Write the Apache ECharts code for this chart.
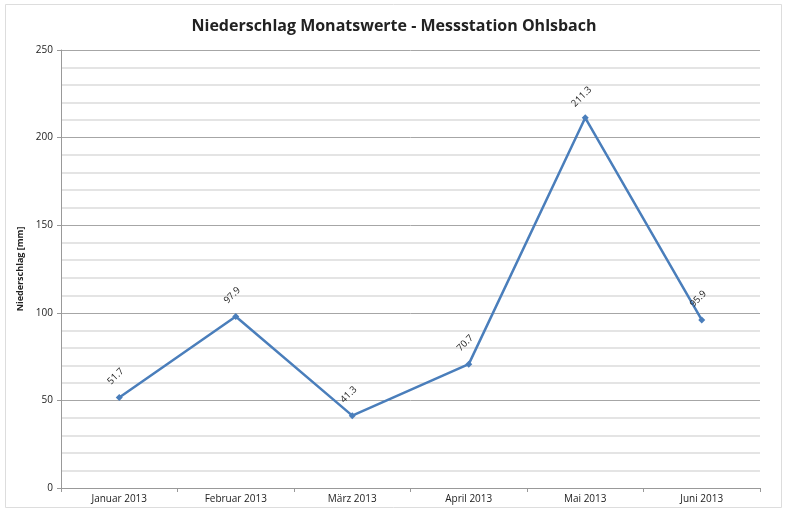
<!DOCTYPE html>
<html>
<head>
<meta charset="utf-8">
<script src="https://cdn.jsdelivr.net/npm/echarts@6/dist/echarts.min.js"></script>
<style>
  html, body { margin: 0; padding: 0; background: #fff; }
  #chart { width: 788px; height: 511px; }
</style>
</head>
<body>
<div id="chart"></div>
<script>
// Monatswerte Niederschlag
var monate = ['Januar 2013', 'Februar 2013', 'März 2013', 'April 2013', 'Mai 2013', 'Juni 2013'];
var niederschlag = [51.7, 97.9, 41.3, 70.7, 211.3, 95.9];
var yMin = 0, yMax = 250, yStep = 50;

var chart = echarts.init(document.getElementById('chart'));
var option = {
    backgroundColor: '#fff',
    animation: false,
    title: {
        text: 'Niederschlag Monatswerte - Messstation Ohlsbach',
        left: 'center',
        top: 13,
        textStyle: { fontFamily: 'Open Sans', fontSize: 16, fontWeight: 'bold', color: '#222' }
    },
    graphic: [{
        type: 'rect',
        shape: { x: 5.5, y: 4.5, width: 776, height: 503 },
        style: { fill: 'none', stroke: '#ddd', lineWidth: 1 },
        silent: true
    }],
    grid: { left: 61, right: 28, top: 50, bottom: 23 },
    xAxis: {
        type: 'category',
        data: monate,
        boundaryGap: true,
        axisLine: { lineStyle: { color: '#999', width: 1 } },
        axisTick: { show: true, alignWithLabel: false, length: 4, lineStyle: { color: '#999' } },
        axisLabel: { color: '#222', fontFamily: 'Open Sans', fontSize: 10, margin: 6 },
        splitLine: { show: false }
    },
    yAxis: {
        type: 'value',
        min: yMin,
        max: yMax,
        interval: yStep,
        name: 'Niederschlag [mm]',
        nameLocation: 'middle',
        nameGap: 29,
        nameTextStyle: { fontFamily: 'Open Sans', fontSize: 9, fontWeight: 'bold', color: '#222' },
        axisLine: { show: true, lineStyle: { color: '#999' } },
        axisTick: { show: true, length: 4, lineStyle: { color: '#999' } },
        axisLabel: { color: '#222', fontFamily: 'Open Sans', fontSize: 10, margin: 8 },
        splitLine: { show: true, lineStyle: { color: '#a6a6a6', width: 1 } },
        minorTick: { show: false, splitNumber: 5 },
        minorSplitLine: { show: true, lineStyle: { color: '#dcdcdc', width: 1.5 } }
    },
    series: [{
        type: 'line',
        data: niederschlag,
        symbol: 'diamond',
        symbolSize: 7,
        lineStyle: { color: '#4a7ebb', width: 2.5 },
        itemStyle: { color: '#4a7ebb' },
        label: {
            show: true,
            position: 'top',
            distance: 14,
            rotate: 45,
            color: '#222',
            fontFamily: 'Open Sans',
            fontSize: 9.5
        }
    }]
};
chart.setOption(option);
</script>
</body>
</html>
